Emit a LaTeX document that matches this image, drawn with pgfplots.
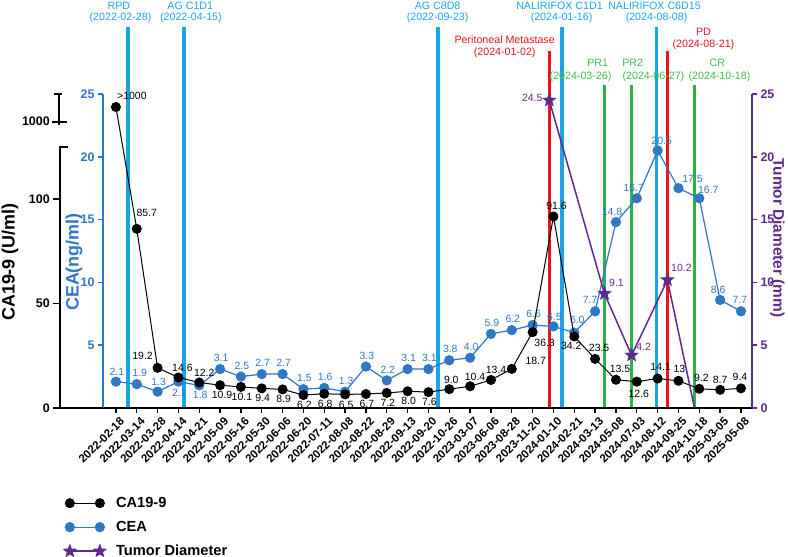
\documentclass[border=0pt]{standalone}
\usepackage{fontspec}
\setmainfont{Liberation Sans}
\usepackage{pgfplots}
\usepackage{pgfplotstable}
\pgfplotsset{compat=1.18}

\definecolor{ceablue}{HTML}{2E78C6}
\definecolor{evblue}{HTML}{1AA5E8}
\definecolor{evred}{HTML}{E8141E}
\definecolor{evgreen}{HTML}{2DB34A}
\definecolor{lblgreen}{HTML}{3DBF4A}
\definecolor{tumor}{HTML}{5E2A8E}

\newcommand\fs[1]{\fontsize{#1}{#1}\selectfont}

% filled five-pointed star
\pgfdeclareplotmark{fstar}{%
  \pgfpathmoveto{\pgfpointpolar{90}{\pgfplotmarksize}}%
  \pgfpathlineto{\pgfpointpolar{126}{0.42\pgfplotmarksize}}%
  \pgfpathlineto{\pgfpointpolar{162}{\pgfplotmarksize}}%
  \pgfpathlineto{\pgfpointpolar{198}{0.42\pgfplotmarksize}}%
  \pgfpathlineto{\pgfpointpolar{234}{\pgfplotmarksize}}%
  \pgfpathlineto{\pgfpointpolar{270}{0.42\pgfplotmarksize}}%
  \pgfpathlineto{\pgfpointpolar{306}{\pgfplotmarksize}}%
  \pgfpathlineto{\pgfpointpolar{342}{0.42\pgfplotmarksize}}%
  \pgfpathlineto{\pgfpointpolar{18}{\pgfplotmarksize}}%
  \pgfpathlineto{\pgfpointpolar{54}{0.42\pgfplotmarksize}}%
  \pgfpathclose
  \pgfusepathqfillstroke}

% CA19-9 (U/ml); the first value sits on the upper segment of the broken axis
\pgfplotstableread{
idx ca dx dy lab
0 1100 16 11 {>1000}
1 85.7 10 16 85.7
2 19.2 -15 12 19.2
3 14.6 4 10 14.6
4 12.2 5 10 12.2
5 10.9 2 -10 10.9
6 10.1 1 -10 10.1
7 9.4 1 -10 9.4
8 8.9 1 -10 8.9
9 6.2 1 -10 6.2
10 6.8 1 -10 6.8
11 6.5 1 -10 6.5
12 6.7 1 -10 6.7
13 7.2 1 -10 7.2
14 8.0 1 -10 8.0
15 7.6 1 -10 7.6
16 9.0 2 9 9.0
17 10.4 5 9 10.4
18 13.4 5 10 13.4
19 18.7 24 8 18.7
20 36.3 12 -11 36.3
21 91.6 3 11 91.6
22 34.2 -3 -9 34.2
23 23.5 4 11 23.5
24 13.5 4 11 13.5
25 12.6 2 -12 12.6
26 14.1 3 12 14.1
27 13 1 12 13
28 9.2 2 11 9.2
29 8.7 0 10 8.7
30 9.4 -1 11 9.4
}\catable

% CEA (ng/ml)
\pgfplotstableread{
idx cea dx dy
0 2.1 1 10
1 1.9 3 11
2 1.3 1 10
3 2.1 1 -11
4 1.8 1 -10
5 3.1 1 11
6 2.5 1 11
7 2.7 1 11
8 2.7 1 11
9 1.5 1 11
10 1.6 1 11
11 1.3 1 11
12 3.3 1 11
13 2.2 1 11
14 3.1 1 11
15 3.1 1 11
16 3.8 1 11
17 4.0 1 11
18 5.9 1 11
19 6.2 1 11
20 6.6 1 11
21 6.5 1 9
22 6.0 3 13
23 7.7 -5 11
24 14.8 -4 10
25 16.7 -3 10
26 20.5 4 10
27 17.5 14 9
28 16.7 9 8
29 8.6 -2 10
30 7.7 -1 11
}\ceatable

% Tumor diameter (mm), placed at the imaging dates between sample dates
\pgfplotstableread{
x td dx dy lab
20.8 24.5 -17 2 24.5
23.45 9.1 12 11 9.1
24.75 4.2 12 8 4.2
26.47 10.2 14 12 10.2
27.77 0 0 0 {}
}\tumortable

\pgfplotsset{
  base/.style={at={(103bp,149bp)}, anchor=south west, scale only axis,
    width=649bp, height=314bp, xmin=-0.62, xmax=30.53, clip=false},
  valuelabels/.style={nodes near coords, point meta=explicit symbolic,
    visualization depends on={\thisrow{dx}\as\dx},
    visualization depends on={\thisrow{dy}\as\dy},
    every node near coord/.append style={anchor=center, inner sep=0pt,
      xshift=\dx bp, yshift=\dy bp, font=\fs{10.5}}},
}

\begin{document}
\begin{tikzpicture}
\useasboundingbox (0,0) rectangle (788bp,557bp);

% treatment and response events
\begin{axis}[base, ymin=0, ymax=25, hide axis]
\addplot[evblue, line width=3.5bp] coordinates {(0.58,0) (0.58,30.33)};
\addplot[evblue, line width=3.5bp] coordinates {(3.27,0) (3.27,30.33)};
\addplot[evblue, line width=3.5bp] coordinates {(15.45,0) (15.45,30.33)};
\addplot[evblue, line width=3.5bp] coordinates {(21.4,0) (21.4,30.33)};
\addplot[evblue, line width=3.5bp] coordinates {(25.95,0) (25.95,30.33)};
\addplot[evred, line width=3.5bp] coordinates {(20.8,0) (20.8,28.42)};
\addplot[evred, line width=3.5bp] coordinates {(26.47,0) (26.47,28.42)};
\addplot[evgreen, line width=3.5bp] coordinates {(23.45,0) (23.45,25.72)};
\addplot[evgreen, line width=3.5bp] coordinates {(24.75,0) (24.75,25.72)};
\addplot[evgreen, line width=3.5bp] coordinates {(27.77,0) (27.77,25.72)};
\begin{scope}[every node/.style={font=\fs{10.7}, inner sep=0pt}]
\node[evblue] at (axis cs:0.14,32.0) {RPD};
\node[evblue] at (axis cs:0.22,31.05) {(2022-02-28)};
\node[evblue] at (axis cs:3.57,32.0) {AG C1D1};
\node[evblue] at (axis cs:3.60,31.05) {(2022-04-15)};
\node[evblue] at (axis cs:15.44,32.0) {AG C8D8};
\node[evblue] at (axis cs:15.44,31.05) {(2022-09-23)};
\node[evblue] at (axis cs:21.29,32.0) {NALIRIFOX C1D1};
\node[evblue] at (axis cs:21.39,31.05) {(2024-01-16)};
\node[evblue] at (axis cs:25.85,32.0) {NALIRIFOX C6D15};
\node[evblue] at (axis cs:25.95,31.05) {(2024-08-08)};
\node[evred] at (axis cs:18.66,29.35) {Peritoneal Metastase};
\node[evred] at (axis cs:18.66,28.32) {(2024-01-02)};
\node[evred] at (axis cs:28.20,29.96) {PD};
\node[evred] at (axis cs:28.20,28.96) {(2024-08-21)};
\node[lblgreen] at (axis cs:23.12,27.47) {PR1};
\node[lblgreen] at (axis cs:22.30,26.35) {(2024-03-26)};
\node[lblgreen] at (axis cs:24.80,27.47) {PR2};
\node[lblgreen] at (axis cs:25.80,26.35) {(2024-06-27)};
\node[lblgreen] at (axis cs:28.87,27.47) {CR};
\node[lblgreen] at (axis cs:28.97,26.35) {(2024-10-18)};
\end{scope}
\end{axis}

% CEA axis, dates and legend
\begin{axis}[base, ymin=0, ymax=25,
  axis x line*=bottom, axis y line*=left,
  x axis line style={black, line width=1.8bp, -},
  y axis line style={ceablue, line width=2.5bp, -},
  xtick={0,...,30},
  xticklabels={2022-02-18,2022-03-14,2022-03-28,2022-04-14,2022-04-21,2022-05-09,
    2022-05-16,2022-05-30,2022-06-06,2022-06-20,2022-07-11,2022-08-08,2022-08-22,
    2022-08-29,2022-09-13,2022-09-20,2022-10-26,2023-03-07,2023-06-06,2023-08-28,
    2023-11-20,2024-01-10,2024-02-21,2024-03-13,2024-05-08,2024-07-03,2024-08-12,
    2024-09-25,2024-10-18,2025-03-05,2025-05-08},
  ytick={5,10,15,20,25},
  tick align=outside, major tick length=5bp,
  x tick style={black, line width=1.4bp},
  y tick style={ceablue, line width=1.6bp},
  xticklabel style={rotate=45, anchor=east, font=\bfseries\fs{11.5}, inner sep=1bp,
    yshift=-9bp, xshift=1bp},
  yticklabel style={ceablue, font=\bfseries\fs{12.5}},
  /pgf/number format/assume math mode=true,
  legend cell align=left,
  legend style={draw=none, fill=none, at={(-0.0655,-0.2738)}, anchor=north west,
    font=\bfseries\fs{14.7}, row sep=10bp, column sep=10bp,
    nodes={inner sep=0pt, text height=11bp, text depth=3bp}},
  legend image code/.code={\draw[#1] plot coordinates {(0bp,0bp) (30bp,0bp)};},
]
\addlegendimage{black, line width=1bp, mark=*, mark size=4.5bp, mark options={fill=black}}
\addlegendentry{CA19-9}
\addplot[ceablue, line width=1.2bp, mark=*, mark size=4.5bp,
  mark options={fill=ceablue, draw=ceablue},
  valuelabels, every node near coord/.append style={text=ceablue}]
  table[x=idx, y=cea, meta=cea] {\ceatable};
\addlegendentry{CEA}
\addlegendimage{tumor, line width=1.5bp, mark=fstar, mark size=6.5bp,
  mark options={fill=tumor, line width=0.8bp}}
\addlegendentry{Tumor Diameter}

% broken CA19-9 axis on the far left
\draw[black, line width=1.8bp] (axis cs:-2.686,0) -- (axis cs:-0.62,0);
\draw[black, line width=1.8bp] (axis cs:-2.686,0) -- (axis cs:-2.686,20.78) -- (axis cs:-2.29,20.78);
\draw[black, line width=1.6bp] (axis cs:-2.686,0) -- (axis cs:-3.02,0);
\draw[black, line width=1.6bp] (axis cs:-2.686,8.32) -- (axis cs:-3.02,8.32);
\draw[black, line width=1.6bp] (axis cs:-2.686,16.64) -- (axis cs:-3.02,16.64);
\draw[black, line width=1.8bp] (axis cs:-2.734,22.53) -- (axis cs:-2.734,25.0);
\draw[black, line width=1.6bp] (axis cs:-2.97,25.0) -- (axis cs:-2.59,25.0);
\draw[black, line width=1.6bp] (axis cs:-3.07,22.77) -- (axis cs:-2.35,22.77);
\begin{scope}[every node/.style={anchor=east, inner sep=0pt, font=\bfseries\fs{12.5}}]
\node at (axis cs:-3.165,0) {0};
\node at (axis cs:-3.165,8.32) {50};
\node at (axis cs:-3.165,16.64) {100};
\node at (axis cs:-3.165,22.85) {1000};
\end{scope}
\node[rotate=90, font=\bfseries\fs{18}] at (axis cs:-5.08,11.62) {CA19-9 (U/ml)};
\node[rotate=90, font=\bfseries\fs{18}, text=ceablue] at (axis cs:-2.01,11.62) {CEA(ng/ml)};
\end{axis}

% CA19-9 series
\begin{axis}[base, ymin=0, ymax=1193.5, hide axis,
  y coord trafo/.code={\pgfmathparse{#1>500 ? 137.3+(#1-1000)/15 : #1}}]
\addplot[black, line width=1bp, mark=*, mark size=4.5bp, mark options={fill=black},
  valuelabels, every node near coord/.append style={text=black}]
  table[x=idx, y=ca, meta=lab] {\catable};
\end{axis}

% tumor diameter axis and series
\begin{axis}[base, ymin=0, ymax=25,
  axis y line*=right, axis x line=none,
  y axis line style={tumor, line width=2.5bp, -},
  ytick={0,5,10,15,20,25},
  tick align=outside, major tick length=5bp,
  y tick style={tumor, line width=1.6bp},
  yticklabel style={tumor, font=\bfseries\fs{12.5}},
  /pgf/number format/assume math mode=true]
\addplot[tumor, line width=1.5bp, mark=fstar, mark size=6.5bp,
  mark options={fill=tumor, line width=0.8bp},
  mark indices={1,2,3,4},
  valuelabels, every node near coord/.append style={text=tumor}]
  table[x=x, y=td, meta=lab] {\tumortable};
\node[rotate=-90, font=\bfseries\fs{15.5}, text=tumor] at (axis cs:31.75,13.54) {Tumor Diameter (mm)};
\end{axis}
\end{tikzpicture}
\end{document}
